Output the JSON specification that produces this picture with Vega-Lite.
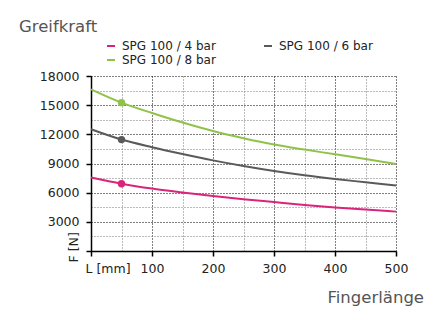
{
  "$schema": "https://vega.github.io/schema/vega-lite/v6.json",
  "width": 305,
  "height": 175,
  "autosize": "none",
  "padding": {"left": 91, "top": 76, "right": 28, "bottom": 58},
  "background": "white",
  "title": {
    "text": "Greifkraft",
    "anchor": "start",
    "frame": "group",
    "dx": -72,
    "fontSize": 16.5,
    "fontWeight": "normal",
    "font": "DejaVu Sans",
    "color": "#555555",
    "offset": 5
  },
  "data": {
    "values": [
      {"L": 0, "F": 7550, "s": "SPG 100 / 4 bar"},
      {"L": 50, "F": 6920, "s": "SPG 100 / 4 bar"},
      {"L": 100, "F": 6420, "s": "SPG 100 / 4 bar"},
      {"L": 150, "F": 6020, "s": "SPG 100 / 4 bar"},
      {"L": 200, "F": 5650, "s": "SPG 100 / 4 bar"},
      {"L": 250, "F": 5320, "s": "SPG 100 / 4 bar"},
      {"L": 300, "F": 5030, "s": "SPG 100 / 4 bar"},
      {"L": 350, "F": 4740, "s": "SPG 100 / 4 bar"},
      {"L": 400, "F": 4480, "s": "SPG 100 / 4 bar"},
      {"L": 450, "F": 4260, "s": "SPG 100 / 4 bar"},
      {"L": 500, "F": 4050, "s": "SPG 100 / 4 bar"},
      {"L": 0, "F": 12520, "s": "SPG 100 / 6 bar"},
      {"L": 50, "F": 11460, "s": "SPG 100 / 6 bar"},
      {"L": 100, "F": 10680, "s": "SPG 100 / 6 bar"},
      {"L": 150, "F": 9980, "s": "SPG 100 / 6 bar"},
      {"L": 200, "F": 9320, "s": "SPG 100 / 6 bar"},
      {"L": 250, "F": 8740, "s": "SPG 100 / 6 bar"},
      {"L": 300, "F": 8230, "s": "SPG 100 / 6 bar"},
      {"L": 350, "F": 7790, "s": "SPG 100 / 6 bar"},
      {"L": 400, "F": 7410, "s": "SPG 100 / 6 bar"},
      {"L": 450, "F": 7070, "s": "SPG 100 / 6 bar"},
      {"L": 500, "F": 6730, "s": "SPG 100 / 6 bar"},
      {"L": 0, "F": 16630, "s": "SPG 100 / 8 bar"},
      {"L": 50, "F": 15260, "s": "SPG 100 / 8 bar"},
      {"L": 100, "F": 14190, "s": "SPG 100 / 8 bar"},
      {"L": 150, "F": 13210, "s": "SPG 100 / 8 bar"},
      {"L": 200, "F": 12340, "s": "SPG 100 / 8 bar"},
      {"L": 250, "F": 11600, "s": "SPG 100 / 8 bar"},
      {"L": 300, "F": 10950, "s": "SPG 100 / 8 bar"},
      {"L": 350, "F": 10430, "s": "SPG 100 / 8 bar"},
      {"L": 400, "F": 9950, "s": "SPG 100 / 8 bar"},
      {"L": 450, "F": 9460, "s": "SPG 100 / 8 bar"},
      {"L": 500, "F": 8950, "s": "SPG 100 / 8 bar"}
    ]
  },
  "encoding": {
    "x": {
      "field": "L",
      "type": "quantitative",
      "scale": {"domain": [0, 500], "nice": false, "zero": false},
      "axis": {
        "values": [0, 50, 100, 150, 200, 250, 300, 350, 400, 450, 500],
        "labelExpr": "datum.value == 0 ? 'L [mm]' : (datum.value % 100 == 0 ? datum.label : '')",
        "labelAlign": {"condition": {"test": "datum.value == 0", "value": "left"}, "value": "center"},
        "labelOffset": {"condition": {"test": "datum.value == 0", "value": -6}, "value": 0},
        "tickSize": {"condition": {"test": "datum.value % 100 == 0", "value": 5}, "value": 0},
        "gridColor": {"condition": {"test": "datum.value % 100 == 0", "value": "#000000"}, "value": "#777777"},
        "gridDash": [1, 2],
        "gridWidth": 1,
        "gridOpacity": 1,
        "domainColor": "#000000",
        "domainWidth": 1.5,
        "tickColor": "#000000",
        "tickWidth": 1.5,
        "labelPadding": 6,
        "labelFont": "DejaVu Sans",
        "labelFontSize": 12.5,
        "labelColor": "#222222",
        "title": "Fingerlänge",
        "titleFont": "DejaVu Sans",
        "titleFontSize": 16.5,
        "titleFontWeight": "normal",
        "titleColor": "#555555",
        "titleAlign": "left",
        "titleBaseline": "alphabetic",
        "titleX": 236,
        "titleY": 51
      }
    },
    "y": {
      "field": "F",
      "type": "quantitative",
      "scale": {"domain": [0, 18000], "nice": false},
      "axis": {
        "values": [0, 1500, 3000, 4500, 6000, 7500, 9000, 10500, 12000, 13500, 15000, 16500, 18000],
        "format": "d",
        "labelExpr": "datum.value > 0 && datum.value % 3000 == 0 ? datum.label : ''",
        "tickSize": {"condition": {"test": "datum.value % 3000 == 0", "value": 5}, "value": 0},
        "gridColor": {"condition": {"test": "datum.value % 3000 == 0", "value": "#000000"}, "value": "#777777"},
        "gridDash": [1, 2],
        "gridWidth": 1,
        "gridOpacity": 1,
        "domainColor": "#000000",
        "domainWidth": 1.5,
        "tickColor": "#000000",
        "tickWidth": 1.5,
        "labelPadding": 7,
        "labelFont": "DejaVu Sans",
        "labelFontSize": 12.5,
        "labelColor": "#222222",
        "title": "F [N]",
        "titleFont": "DejaVu Sans",
        "titleFontSize": 12.5,
        "titleFontWeight": "normal",
        "titleColor": "#222222",
        "titleAngle": 270,
        "titleAlign": "left",
        "titleBaseline": "alphabetic",
        "titleX": -14,
        "titleY": 186
      }
    },
    "color": {
      "field": "s",
      "type": "nominal",
      "scale": {
        "domain": ["SPG 100 / 4 bar", "SPG 100 / 6 bar", "SPG 100 / 8 bar"],
        "range": ["#d9247c", "#5a5a5a", "#90c24a"]
      },
      "legend": {
        "title": null,
        "orient": "none",
        "legendX": 14,
        "legendY": -36,
        "direction": "horizontal",
        "columns": 2,
        "columnPadding": 44,
        "rowPadding": 2,
        "symbolType": "stroke",
        "symbolSize": 64,
        "symbolStrokeWidth": 2,
        "labelFont": "DejaVu Sans",
        "labelFontSize": 12,
        "labelColor": "#222222",
        "labelOffset": 5,
        "padding": 0
      }
    }
  },
  "layer": [
    {
      "mark": {"type": "line", "interpolate": "monotone", "strokeWidth": 2}
    },
    {
      "transform": [{"filter": "datum.L == 50"}],
      "mark": {"type": "circle", "size": 55, "opacity": 1}
    }
  ],
  "config": {
    "view": {"stroke": null}
  }
}
